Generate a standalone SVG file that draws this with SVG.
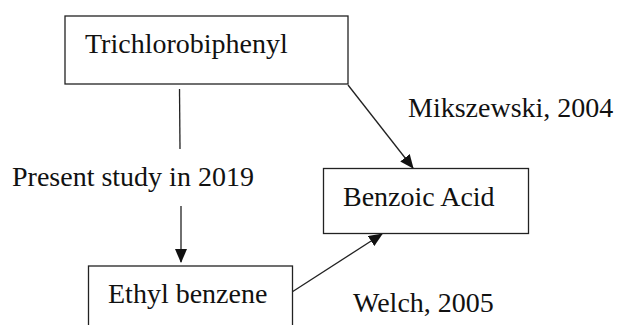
<svg xmlns="http://www.w3.org/2000/svg" width="620" height="325" viewBox="0 0 620 325">
<defs>
<style>
.box{fill:#fff;stroke:#222;stroke-width:1.3}
.t{font-family:"Liberation Serif","Times New Roman",serif;font-size:28px;fill:#111}
.c{stroke:#222;stroke-width:1.3;fill:none}
</style>
<marker id="ah" markerWidth="14" markerHeight="12" refX="13" refY="6" orient="auto" markerUnits="userSpaceOnUse">
<path d="M0,0 L14,6 L0,12 Z" fill="#111"/>
</marker>
</defs>
<rect width="620" height="325" fill="#fff"/>
<g id="connectors">
<line class="c" x1="179.5" y1="89" x2="180" y2="149"/>
<line class="c" x1="181" y1="206" x2="181" y2="262" marker-end="url(#ah)"/>
<line class="c" x1="348" y1="85" x2="413" y2="168" marker-end="url(#ah)"/>
<line class="c" x1="292" y1="292" x2="382" y2="234" marker-end="url(#ah)"/>
</g>
<g id="trichlorobiphenyl">
<rect class="box" x="65" y="16" width="283" height="68"/>
<text class="t" x="85" y="53">Trichlorobiphenyl</text>
</g>
<g id="benzoic-acid">
<rect class="box" x="323.5" y="168.5" width="205" height="65"/>
<text class="t" x="343" y="206">Benzoic Acid</text>
</g>
<g id="ethyl-benzene">
<rect class="box" x="88.5" y="266" width="204" height="80"/>
<text class="t" x="108" y="303">Ethyl benzene</text>
</g>
<g id="labels">
<text class="t" x="12" y="186">Present study in 2019</text>
<text class="t" x="408" y="117">Mikszewski, 2004</text>
<text class="t" x="353" y="312">Welch, 2005</text>
</g>
</svg>
